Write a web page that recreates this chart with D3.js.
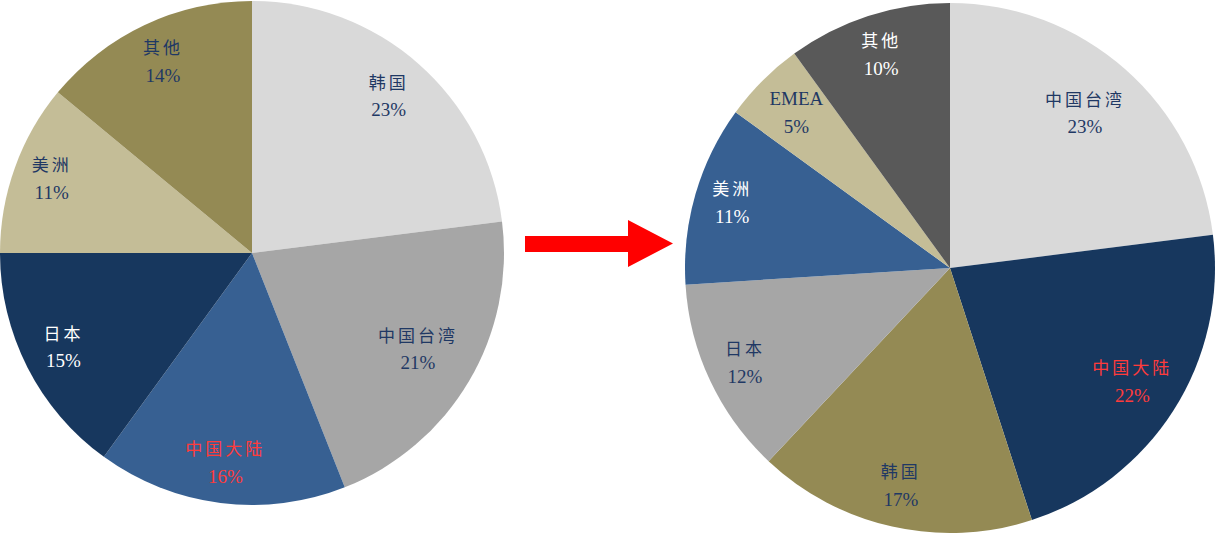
<!DOCTYPE html>
<html><head><meta charset="utf-8">
<script src="https://cdn.jsdelivr.net/npm/d3@7"></script>
<style>body{margin:0;background:#fff;}svg{display:block;}</style>
</head><body>
<svg id="c" width="1217" height="534"></svg>
<script>
const leftCategories = ["韩国","中国台湾","中国大陆","日本","美洲","其他"];
const leftValues = [23,21,16,15,11,14];
const rightCategories = ["中国台湾","中国大陆","韩国","日本","美洲","EMEA","其他"];
const rightValues = [23,22,17,12,11,5,10];

// styles
const leftColors = ["#d9d9d9","#a6a6a6","#376092","#17375e","#c4bd97","#948a54"];
const leftTextColors = ["#1f3864","#1f3864","#ff3b3b","#ffffff","#1f3864","#1f3864"];
const leftLabelR = [0.82,0.765,0.845,0.84,0.845,0.83];
const rightColors = ["#d9d9d9","#17375e","#948a54","#a6a6a6","#376092","#c4bd97","#595959"];
const rightTextColors = ["#1f3864","#ff3b3b","#1f3864","#1f3864","#ffffff","#1f3864","#ffffff"];
const rightLabelR = [0.77,0.815,0.85,0.855,0.856,0.82,0.84];

const svg = d3.select("#c");

function drawPie(cx, cy, r, cats, vals, colors, tcolors, lr){
  const data = cats.map((c,i)=>({cat:c, v:vals[i], color:colors[i], tc:tcolors[i], lr:lr[i]}));
  const pie = d3.pie().value(d=>d.v).sort(null);
  const arcs = pie(data);
  const arc = d3.arc().innerRadius(0).outerRadius(r);
  const g = svg.append("g").attr("transform",`translate(${cx},${cy})`);
  g.selectAll("path").data(arcs).join("path")
    .attr("d",arc).attr("fill",d=>d.data.color);
  const lab = g.selectAll("g.lab").data(arcs).join("g").attr("class","lab")
    .attr("transform",d=>{
      const la = d3.arc().innerRadius(r*d.data.lr).outerRadius(r*d.data.lr);
      const [x,y]=la.centroid(d);return `translate(${x},${y})`;});
  lab.append("text").attr("y",-14).attr("text-anchor","middle").attr("dominant-baseline","middle")
    .attr("font-family","'Noto Sans CJK SC','Liberation Serif',serif").attr("font-size",17)
    .attr("letter-spacing",3)
    .attr("fill",d=>d.data.tc).text(d=>d.data.cat);
  lab.append("text").attr("y",14).attr("text-anchor","middle").attr("dominant-baseline","middle")
    .attr("font-family","'Liberation Serif',serif").attr("font-size",19)
    .attr("fill",d=>d.data.tc).text(d=>d.data.v+"%");
  lab.select("text").filter(d=>/^[A-Za-z]+$/.test(d.data.cat))
    .attr("font-family","'Liberation Serif',serif").attr("font-size",19).attr("letter-spacing",0);
}

drawPie(252,253,252,leftCategories,leftValues,leftColors,leftTextColors,leftLabelR);
drawPie(950,268,265,rightCategories,rightValues,rightColors,rightTextColors,rightLabelR);

// arrow
svg.append("path")
  .attr("d","M525,236 L628,236 L628,220 L673,243.5 L628,267 L628,252 L525,252 Z")
  .attr("fill","#ff0000");
</script>
</body></html>
